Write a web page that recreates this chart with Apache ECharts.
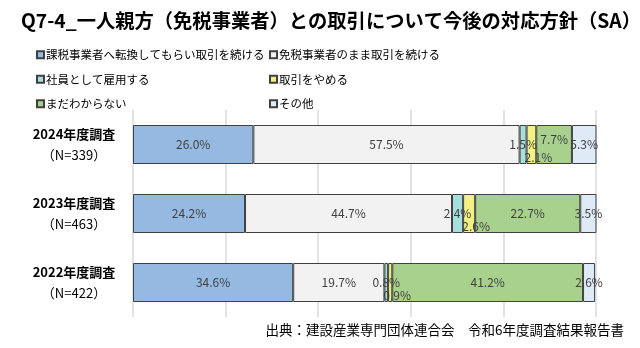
<!DOCTYPE html>
<html>
<head>
<meta charset="utf-8">
<script src="https://cdn.jsdelivr.net/npm/echarts@6/dist/echarts.min.js"></script>
<style>
  html, body { margin: 0; padding: 0; background: #fff; }
  #chart { width: 640px; height: 348px; }
</style>
</head>
<body>
<div id="chart"></div>
<script>
// Survey years (top to bottom) and sample sizes
const years = ['2024年度調査', '2023年度調査', '2022年度調査'];
const sampleSizes = ['（N=339）', '（N=463）', '（N=422）'];

// Response options
const seriesNames = [
  '課税事業者へ転換してもらい取引を続ける',
  '免税事業者のまま取引を続ける',
  '社員として雇用する',
  '取引をやめる',
  'まだわからない',
  'その他'
];

// Shares (%) per option, in the order of years
const convertAndContinue = [26.0, 24.2, 34.6];
const continueAsExempt   = [57.5, 44.7, 19.7];
const hireAsEmployee     = [1.5, 2.4, 0.8];
const stopTrading        = [2.1, 2.6, 0.9];
const undecided          = [7.7, 22.7, 41.2];
const other              = [5.3, 3.5, 2.6];

const seriesValues = [convertAndContinue, continueAsExempt, hireAsEmployee, stopTrading, undecided, other];
const colors = ['#95B9E1', '#F2F2F2', '#A6DFDB', '#F2F282', '#A9D18E', '#DEEBF7'];

const FONT = '"Noto Sans CJK JP", "Noto Sans", sans-serif';
const TEXT = '#404040';

const categories = years.map((y, i) => y + '\n' + sampleSizes[i]);

const series = seriesValues.map((vals, si) => ({
  name: seriesNames[si],
  type: 'bar',
  stack: 'total',
  barWidth: 39,
  itemStyle: { color: colors[si], borderColor: '#404040', borderWidth: 1 },
  label: {
    show: true,
    position: 'inside',
    color: TEXT,
    fontFamily: FONT,
    fontSize: 12,
    formatter: p => p.value.toFixed(1) + '%',
    // small "stop trading" labels are pushed down so they clear their neighbours
    offset: si === 3 ? [7, 13] : [0, 0]
  },
  data: vals.map((v, i) => {
    if (si === 4 && i === 0) {
      return { value: v, label: { offset: [0, -5] } };
    }
    return v;
  })
}));

const chart = echarts.init(document.getElementById('chart'), null, { renderer: 'canvas' });

const legendCommon = {
  orient: 'vertical',
  top: 44,
  itemWidth: 7,
  itemHeight: 7,
  itemGap: 13,
  icon: 'rect',
  selectedMode: false,
  textStyle: { fontFamily: FONT, fontSize: 11.5, color: '#000', padding: [0, 0, 0, -3] }
};

chart.setOption({
  animation: false,
  color: colors,
  title: {
    text: 'Q7-4_一人親方（免税事業者）との取引について今後の対応方針（SA）',
    left: 16,
    top: 6,
    textStyle: { fontFamily: FONT, fontSize: 19.3, fontWeight: 'bold', color: '#000' }
  },
  legend: [
    Object.assign({}, legendCommon, { left: 31, data: [seriesNames[0], seriesNames[2], seriesNames[4]] }),
    Object.assign({}, legendCommon, { left: 264, data: [seriesNames[1], seriesNames[3], seriesNames[5]] })
  ],
  grid: { left: 133, right: 44, top: 110, bottom: 31 },
  xAxis: {
    type: 'value',
    min: 0,
    max: 100,
    interval: 20,
    axisLabel: { show: false },
    axisLine: { show: false },
    axisTick: { show: false },
    splitLine: { show: true, lineStyle: { color: '#D9D9D9', width: 1.5 } }
  },
  yAxis: {
    type: 'category',
    inverse: true,
    data: categories,
    axisLine: { show: false },
    axisTick: { show: false },
    axisLabel: {
      margin: 59,
      align: 'center',
      formatter: v => {
        const [a, b] = v.split('\n');
        return '{a|' + a + '}\n{b|' + b + '}';
      },
      rich: {
        a: { fontFamily: FONT, fontSize: 13, fontWeight: 'bold', color: '#000', lineHeight: 21, align: 'center' },
        b: { fontFamily: FONT, fontSize: 13, color: '#000', lineHeight: 21, align: 'center' }
      }
    }
  },
  graphic: [{
    type: 'text',
    right: 16,
    top: 323,
    style: {
      text: '出典：建設産業専門団体連合会　令和6年度調査結果報告書',
      font: '13.5px ' + FONT,
      fill: '#000'
    }
  }],
  series: series
});
</script>
</body>
</html>
